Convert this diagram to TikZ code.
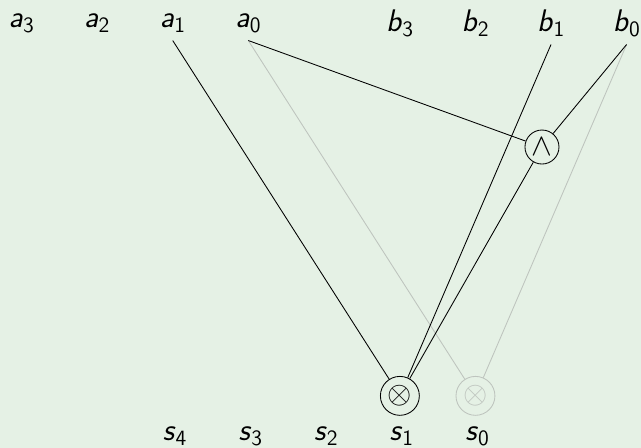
\documentclass[tikz,border=0pt]{standalone}
\usepackage{fix-cm}
\definecolor{bgreen}{RGB}{229,241,229}
\definecolor{fadeline}{RGB}{190,196,190}
\newcommand{\bitlabel}[2]{$\textsf{\textit{#1}}_{\mathsf{#2}}$}
\begin{document}
\begin{tikzpicture}[
	every node/.style={ font=\fontsize{23.5}{28}\selectfont, inner sep=6pt },
	wire/.style={ black, line width=0.65pt },
	wireg/.style={ fadeline, line width=0.65pt },
	gateand/.style={ circle, draw, line width=0.65pt, inner sep=0pt, minimum size=0.9cm },
	gatexor/.style={ circle, draw, line width=0.65pt, inner sep=0pt, minimum size=1.03cm }
]

\fill[bgreen] (0,0) rectangle (16.96,11.85);
\useasboundingbox (0,0) rectangle (16.96,11.85);

\node at (0.57,11.24) (a3) {\bitlabel{a}{3}};
\node at (2.57,11.24) (a2) {\bitlabel{a}{2}};
\node at (4.57,11.24) (a1) {\bitlabel{a}{1}};
\node at (6.57,11.24) (a0) {\bitlabel{a}{0}};
\node at (10.58,11.24) (b3) {\bitlabel{b}{3}};
\node at (12.58,11.24) (b2) {\bitlabel{b}{2}};
\node at (14.58,11.24) (b1) {\bitlabel{b}{1}};
\node at (16.58,11.24) (b0) {\bitlabel{b}{0}};

\node[gateand] at (14.34,7.96) (and0) {$\wedge$};
\node[gatexor] at (10.58,1.376) (xor1) {$\otimes$};
\node[gatexor,fadeline] at (12.58,1.376) (xor0) {$\otimes$};

\node at (4.63,0.31) (s4) {\bitlabel{s}{4}};
\node at (6.63,0.31) (s3) {\bitlabel{s}{3}};
\node at (8.63,0.31) (s2) {\bitlabel{s}{2}};
\node at (10.63,0.31) (s1) {\bitlabel{s}{1}};
\node at (12.63,0.31) (s0) {\bitlabel{s}{0}};

\draw[wireg] (a0.south) to (xor0);
\draw[wireg] (b0.south) to (xor0);
\draw[wire] (a1.south) to (xor1);
\draw[wire] (b1.south) to (xor1);
\draw[wire] (a0.south) to (and0);
\draw[wire] (b0.south) to (and0);
\draw[wire] (and0) to (xor1);

\end{tikzpicture}
\end{document}
